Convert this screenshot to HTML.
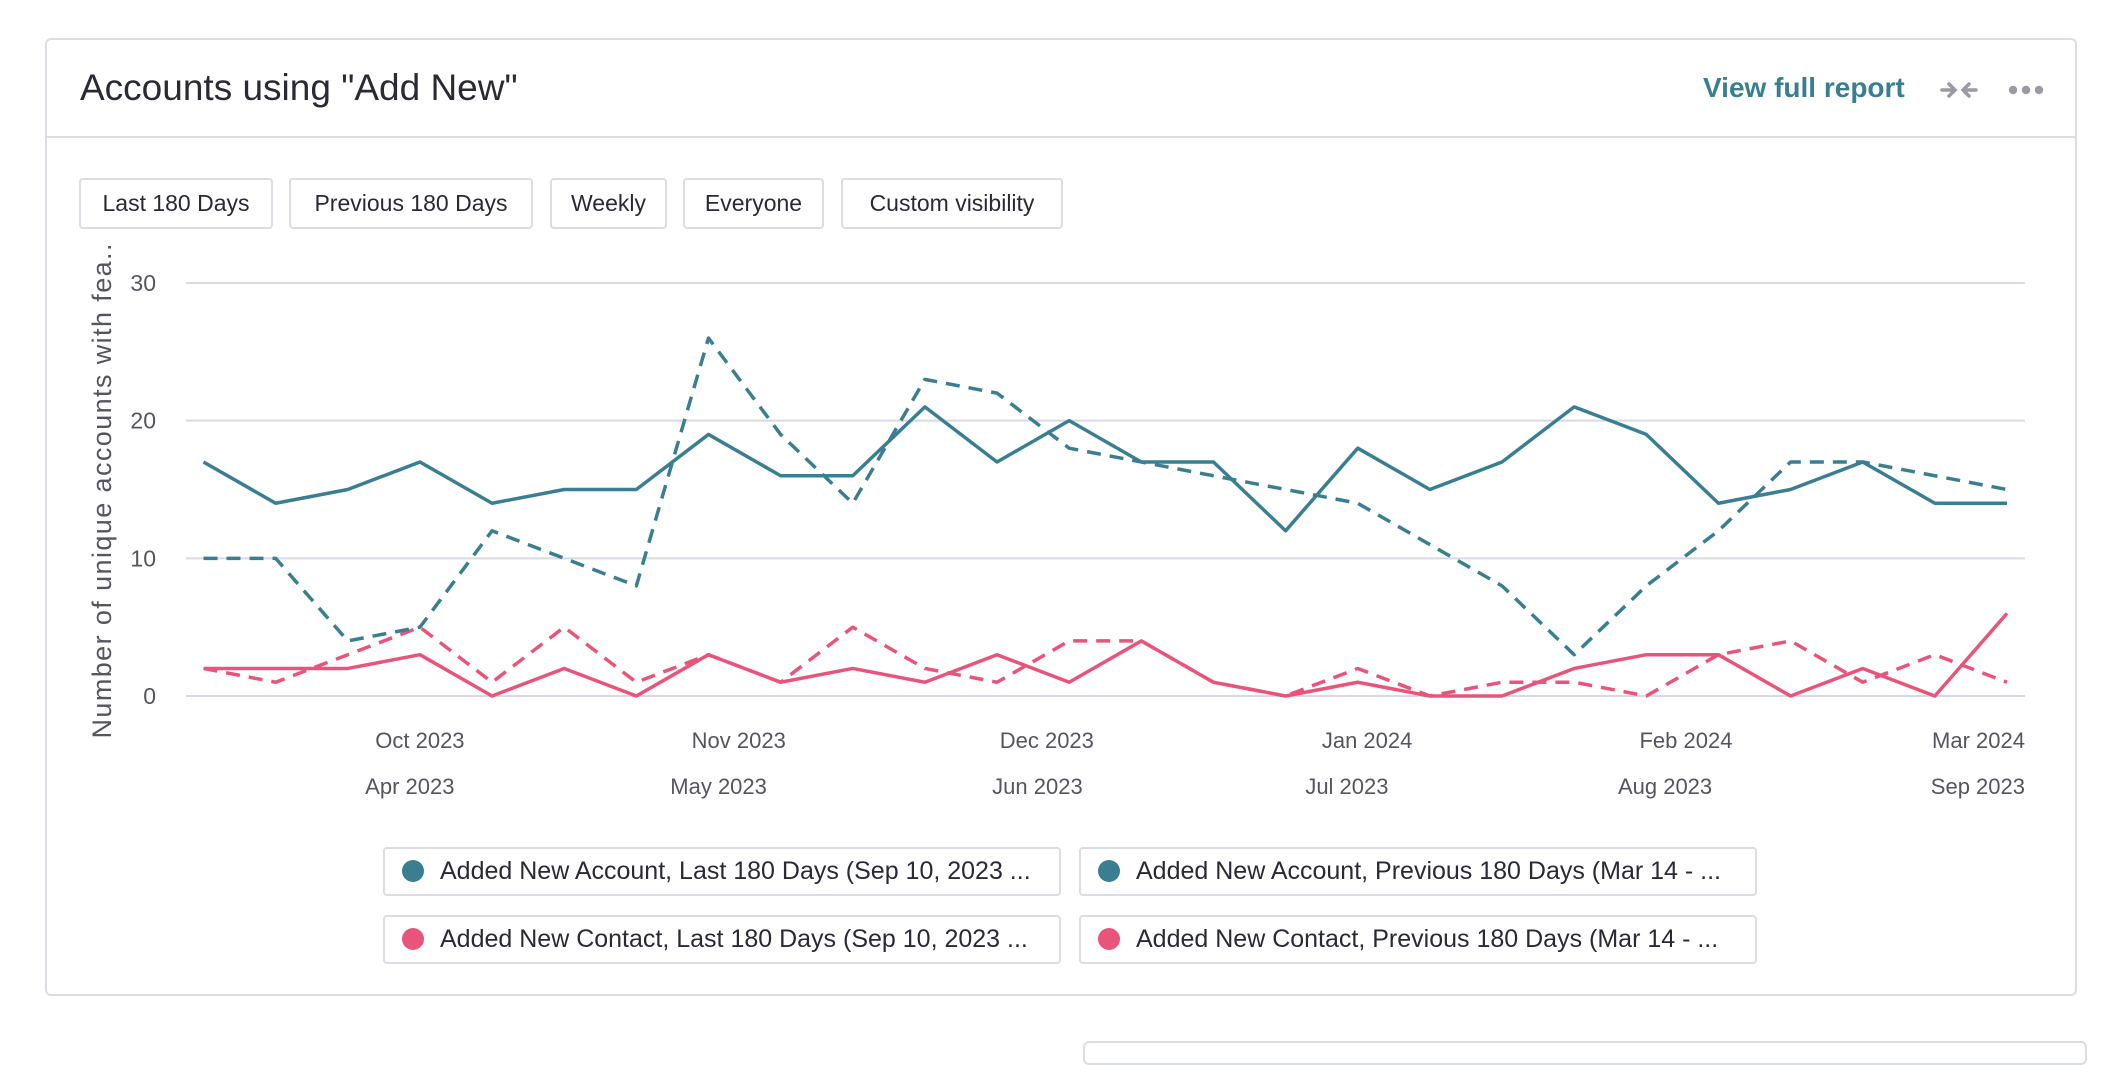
<!DOCTYPE html>
<html><head><meta charset="utf-8"><style>
body{margin:0;width:2128px;height:1046px;background:#fff;font-family:"Liberation Sans",sans-serif;position:relative;overflow:hidden}
.card{position:absolute;left:45px;top:38px;width:2032px;height:958px;border:2px solid #dcdce3;border-radius:6px;box-sizing:border-box}
.hdr{position:absolute;left:0;top:0;right:0;height:96px;border-bottom:2px solid #dcdce3}
.title{position:absolute;left:33px;top:27px;font-size:37px;color:#2a2a35}
.vfr{position:absolute;left:1656px;top:32px;font-size:28px;font-weight:bold;color:#3a7f91}
.btn{position:absolute;top:138px;height:51px;border:2px solid #dcdce3;border-radius:4px;box-sizing:border-box;font-size:23px;color:#2a2a35;line-height:47px;text-align:center}
.leg{position:absolute;height:49px;border:2px solid #dcdce3;border-radius:4px;box-sizing:border-box;font-size:25px;color:#2a2a35;line-height:45px;padding-left:55px;width:678px;white-space:nowrap}
.dot{position:absolute;left:17px;top:11px;width:22px;height:22px;border-radius:50%}
</style></head><body>
<div class="card">
 <div class="hdr">
  <div class="title">Accounts using "Add New"</div>
  <div class="vfr">View full report</div>
  <svg style="position:absolute;left:1892px;top:35px" width="40" height="30"><g stroke="#9a9aa5" stroke-width="3.5" fill="none" stroke-linecap="round"><path d="M3 15h12M10 9l6 6-6 6M37 15H25M30 9l-6 6 6 6"/></g></svg>
  <svg style="position:absolute;left:1958px;top:40px" width="44" height="20"><g fill="#9a9aa5"><circle cx="8" cy="10" r="4.2"/><circle cx="21" cy="10" r="4.2"/><circle cx="34" cy="10" r="4.2"/></g></svg>
 </div>
 <div class="btn" style="left:32px;width:194px">Last 180 Days</div>
 <div class="btn" style="left:242px;width:244px">Previous 180 Days</div>
 <div class="btn" style="left:503px;width:117px">Weekly</div>
 <div class="btn" style="left:636px;width:141px">Everyone</div>
 <div class="btn" style="left:794px;width:222px">Custom visibility</div>
 <div class="leg" style="left:336px;top:807px"><span class="dot" style="background:#3a7f91"></span>Added New Account, Last 180 Days (Sep 10, 2023 ...</div>
 <div class="leg" style="left:1032px;top:807px"><span class="dot" style="background:#3a7f91"></span>Added New Account, Previous 180 Days (Mar 14 - ...</div>
 <div class="leg" style="left:336px;top:875px"><span class="dot" style="background:#e9557a"></span>Added New Contact, Last 180 Days (Sep 10, 2023 ...</div>
 <div class="leg" style="left:1032px;top:875px"><span class="dot" style="background:#e9557a"></span>Added New Contact, Previous 180 Days (Mar 14 - ...</div>
</div>
<div style="position:absolute;left:1083px;top:1041px;width:1000px;height:20px;border:2px solid #dcdce3;border-radius:6px"></div>
<svg id="chart" style="position:absolute;left:0;top:0" width="2128" height="1046"></svg>
<script>
const accLast=[17,14,15,17,14,15,15,19,16,16,21,17,20,17,17,12,18,15,17,21,19,14,15,17,14,14];
const accPrev=[10,10,4,5,12,10,8,26,19,14,23,22,18,17,16,15,14,11,8,3,8,12,17,17,16,15];
const conLast=[2,2,2,3,0,2,0,3,1,2,1,3,1,4,1,0,1,0,0,2,3,3,0,2,0,6];
const conPrev=[2,1,3,5,1,5,1,3,1,5,2,1,4,4,1,0,2,0,1,1,0,3,4,1,3,1];
const yTicks=[0,10,20,30];
const xLabels1=["Oct 2023","Nov 2023","Dec 2023","Jan 2024","Feb 2024","Mar 2024"];
const xLabels1Pos=[3,7.42,11.69,16.13,20.55,25];
const xLabels2=["Apr 2023","May 2023","Jun 2023","Jul 2023","Aug 2023","Sep 2023"];
const xLabels2Pos=[2.86,7.14,11.56,15.85,20.26,25];
const NS="http://www.w3.org/2000/svg",svg=document.getElementById('chart');
const x=i=>203.5+i*72.14, y=v=>696-v*13.767;
function mk(t,a){const e=document.createElementNS(NS,t);for(const k in a)e.setAttribute(k,a[k]);svg.appendChild(e);return e;}
yTicks.forEach(v=>{
 const g=mk('line',{x1:186,x2:2025,y1:y(v),y2:y(v),stroke:'#d8d9e4','stroke-width':2});
 
 
 const t=mk('text',{x:156,y:y(v)+8,'text-anchor':'end','font-size':23,fill:'#555560','font-family':'Liberation Sans'});
 t.textContent=v;
 
 
});
const at=mk('text',{transform:'translate(111,491) rotate(-90)','text-anchor':'middle','font-size':27,fill:'#555560','font-family':'Liberation Sans',textLength:495,lengthAdjust:'spacing'});
at.textContent='Number of unique accounts with fea..';


function labs(arr,pos,yy){arr.forEach((s,i)=>{const last=i==arr.length-1;
 const t=mk('text',{x:last?2025:x(pos[i]),y:yy,'text-anchor':last?'end':'middle','font-size':22,fill:'#555560','font-family':'Liberation Sans'});
 t.textContent=s;
 
 });}
labs(xLabels1,xLabels1Pos,748);labs(xLabels2,xLabels2Pos,794);
function line(d,c,dash,name){const p=mk('polyline',{points:d.map((v,i)=>x(i)+','+y(v)).join(' '),fill:'none',stroke:c,'stroke-width':3.5,'stroke-linejoin':'round'});
 if(dash)p.setAttribute('stroke-dasharray','14 9');
 
 }
line(conPrev,'#e9557a',true,'series-contact-previous');
line(accPrev,'#3a7f91',true,'series-account-previous');
line(conLast,'#e9557a',false,'series-contact-last');
line(accLast,'#3a7f91',false,'series-account-last');
</script>
</body></html>
